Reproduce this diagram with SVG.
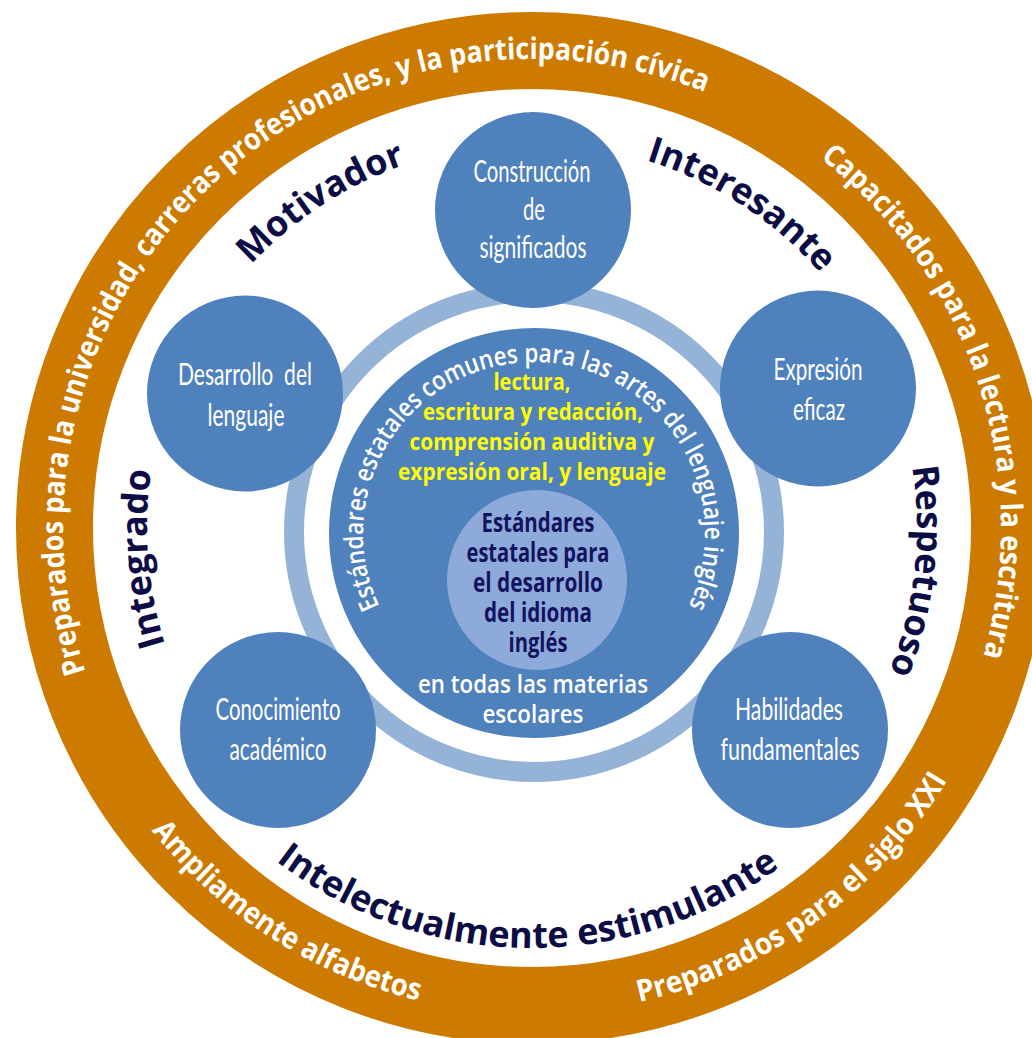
<svg xmlns="http://www.w3.org/2000/svg" width="1032" height="1038" viewBox="0 0 1032 1038">
<style>
.ring-text{font-family:"Open Sans","Liberation Sans",sans-serif;font-weight:700;font-size:30px;fill:#ffffff}
.label{font-family:"Open Sans","Liberation Sans",sans-serif;font-weight:700;font-size:36px;fill:#0D0D45}
.node{fill:#4F81BD}
.node-text{font-family:Lato,"Liberation Sans",sans-serif;font-size:30px;fill:#ffffff;text-anchor:middle}
.std-arc{font-family:"Open Sans","Liberation Sans",sans-serif;font-weight:600;font-size:26px;fill:#ffffff}
.yellow{font-family:"Open Sans","Liberation Sans",sans-serif;font-weight:700;font-size:24px;fill:#FFFF00;text-anchor:middle}
.navy{font-family:"Open Sans","Liberation Sans",sans-serif;font-weight:700;font-size:26px;fill:#13135E;text-anchor:middle}
.white-c{font-family:"Open Sans","Liberation Sans",sans-serif;font-weight:600;font-size:25px;fill:#ffffff;text-anchor:middle}
</style>
<defs>
<path id="p1" d="M91.6,689.2 A469,469 0 0 1 722,99.2"/>
<path id="p2" d="M807,148.1 A469,469 0 0 1 978.3,672.2"/>
<path id="p3" d="M141.3,817.1 A486,486 0 0 0 435.1,1004.2"/>
<path id="p4" d="M622.6,1005.5 A486,486 0 0 0 956,765.5"/>
<path id="pMot" d="M241.4,275.4 A385,385 0 0 1 419.4,159.8"/>
<path id="pInt" d="M631,155.9 A385,385 0 0 1 830.8,285.2"/>
<path id="pRes" d="M909.1,450.6 A385,385 0 0 1 882.6,687"/>
<path id="pIntg" d="M169.1,656.5 A385,385 0 0 1 153.4,457.8"/>
<path id="pIntel" d="M263.7,851.1 A420,420 0 0 0 792.3,857.6"/>
<path id="pStd" d="M383,613.3 A171,171 0 1 1 685,613.3"/>
</defs>
<rect x="0" y="0" width="1032" height="1038" fill="#ffffff"/>

<g id="outer-ring">
<circle cx="532" cy="528" r="477.5" fill="none" stroke="#CC7A00" stroke-width="77"/>
<text class="ring-text"><textPath href="#p1" startOffset="50%" text-anchor="middle" textLength="1060" lengthAdjust="spacingAndGlyphs">Preparados para la universidad, carreras profesionales, y la participación cívica</textPath></text>
<text class="ring-text"><textPath href="#p2" startOffset="50%" text-anchor="middle" textLength="556" lengthAdjust="spacingAndGlyphs">Capacitados para la lectura y la escritura</textPath></text>
<text class="ring-text"><textPath href="#p3" startOffset="50%" text-anchor="middle" textLength="322" lengthAdjust="spacingAndGlyphs">Ampliamente alfabetos</textPath></text>
<text class="ring-text"><textPath href="#p4" startOffset="50%" text-anchor="middle" textLength="390" lengthAdjust="spacingAndGlyphs">Preparados para el siglo XXI</textPath></text>
</g>

<g id="qualities">
<text class="label"><textPath href="#pMot" startOffset="50%" text-anchor="middle">Motivador</textPath></text>
<text class="label"><textPath href="#pInt" startOffset="50%" text-anchor="middle">Interesante</textPath></text>
<text class="label"><textPath href="#pRes" startOffset="50%" text-anchor="middle">Respetuoso</textPath></text>
<text class="label"><textPath href="#pIntg" startOffset="50%" text-anchor="middle">Integrado</textPath></text>
<text class="label"><textPath href="#pIntel" startOffset="50%" text-anchor="middle">Intelectualmente estimulante</textPath></text>
</g>

<g id="connectors">
<circle cx="534" cy="532" r="240" fill="none" stroke="#95B3D7" stroke-width="20"/>
</g>

<g id="core">
<circle cx="534" cy="533" r="205" fill="#4F81BD"/>
<text class="std-arc"><textPath href="#pStd" startOffset="50%" text-anchor="middle" textLength="688" lengthAdjust="spacingAndGlyphs">Estándares estatales comunes para las artes del lenguaje inglés</textPath></text>
<text class="yellow" x="532" y="390" textLength="77" lengthAdjust="spacingAndGlyphs">lectura,</text>
<text class="yellow" x="533" y="420" textLength="220" lengthAdjust="spacingAndGlyphs">escritura y redacción,</text>
<text class="yellow" x="532" y="450" textLength="245" lengthAdjust="spacingAndGlyphs">comprensión auditiva y</text>
<text class="yellow" x="532" y="480" textLength="268" lengthAdjust="spacingAndGlyphs">expresión oral, y lenguaje</text>
<text class="white-c" x="533" y="693" textLength="230" lengthAdjust="spacingAndGlyphs">en todas las materias</text>
<text class="white-c" x="533" y="723" textLength="101" lengthAdjust="spacingAndGlyphs">escolares</text>
</g>

<g id="eld">
<circle cx="537" cy="580" r="90" fill="#8EAADB"/>
<text class="navy" x="538" y="532" textLength="113" lengthAdjust="spacingAndGlyphs">Estándares</text>
<text class="navy" x="538" y="562" textLength="143" lengthAdjust="spacingAndGlyphs">estatales para</text>
<text class="navy" x="538" y="592" textLength="130" lengthAdjust="spacingAndGlyphs">el desarrollo</text>
<text class="navy" x="538" y="622" textLength="108" lengthAdjust="spacingAndGlyphs">del idioma</text>
<text class="navy" x="538" y="652" textLength="59" lengthAdjust="spacingAndGlyphs">inglés</text>
</g>

<g id="n-construccion">
<circle class="node" cx="533" cy="210" r="98"/>
<text class="node-text" x="532" y="182" textLength="117" lengthAdjust="spacingAndGlyphs">Construcción</text>
<text class="node-text" x="534" y="220" textLength="22" lengthAdjust="spacingAndGlyphs">de</text>
<text class="node-text" x="533" y="258" textLength="107" lengthAdjust="spacingAndGlyphs">significados</text>
</g>

<g id="n-desarrollo">
<circle class="node" cx="245" cy="393.5" r="98"/>
<text class="node-text" x="245" y="385" textLength="134" lengthAdjust="spacingAndGlyphs" xml:space="preserve">Desarrollo  del</text>
<text class="node-text" x="246" y="426" textLength="77" lengthAdjust="spacingAndGlyphs">lenguaje</text>
</g>

<g id="n-expresion">
<circle class="node" cx="818" cy="388.5" r="98"/>
<text class="node-text" x="818" y="380" textLength="89" lengthAdjust="spacingAndGlyphs">Expresión</text>
<text class="node-text" x="819" y="420" textLength="52" lengthAdjust="spacingAndGlyphs">eficaz</text>
</g>

<g id="n-conocimiento">
<circle class="node" cx="278" cy="730" r="98"/>
<text class="node-text" x="278" y="720" textLength="125" lengthAdjust="spacingAndGlyphs">Conocimiento</text>
<text class="node-text" x="278" y="760" textLength="97" lengthAdjust="spacingAndGlyphs">académico</text>
</g>

<g id="n-habilidades">
<circle class="node" cx="790" cy="730" r="98"/>
<text class="node-text" x="789" y="720" textLength="108" lengthAdjust="spacingAndGlyphs">Habilidades</text>
<text class="node-text" x="790" y="760" textLength="139" lengthAdjust="spacingAndGlyphs">fundamentales</text>
</g>
</svg>
